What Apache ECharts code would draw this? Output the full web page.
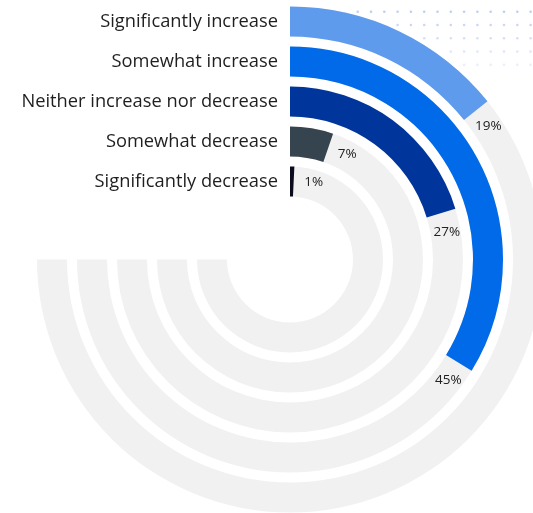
<!DOCTYPE html>
<html>
<head>
<meta charset="utf-8">
<script src="https://cdn.jsdelivr.net/npm/echarts@6/dist/echarts.min.js"></script>
<style>
html,body{margin:0;padding:0;background:#fff;}
#chart{width:533px;height:513px;}
</style>
</head>
<body>
<div id="chart"></div>
<script>
const categories = ['Significantly increase', 'Somewhat increase', 'Neither increase nor decrease', 'Somewhat decrease', 'Significantly decrease'];
const values = [19, 45, 27, 7, 1];
const trackValues = [100, 100, 100, 100, 100];
const colors = ['#5f9bec', '#006ae9', '#00369b', '#36444f', '#0b0b1e'];

const CX = 290, CY = 259.5;
const chart = echarts.init(document.getElementById('chart'), null, {renderer: 'canvas'});

// decorative dot pattern (top right)
const dots = [];
for (let r = 0; r < 5; r++) {
  for (let c = 0; c < 14; c++) {
    const x = 357.7 + c * 13.3, y = 11.7 + r * 13.3;
    const d = Math.hypot(x - CX, y - CY);
    if (d < 256 || x > 533) continue;
    dots.push({type: 'circle', shape: {cx: x, cy: y, r: 1.3}, style: {fill: '#b9c9f2', opacity: 0.9 - r * 0.15}, silent: true});
  }
}

const option = {
  animation: false,
  backgroundColor: '#ffffff',
  graphic: [{type: 'group', z: -10, children: dots}],
  polar: {center: [CX, CY], radius: [58, 258]},
  angleAxis: {type: 'value', min: 0, max: 100 * 360 / 270, startAngle: 90, clockwise: true, show: false},
  radiusAxis: {
    type: 'category', data: categories, inverse: true,
    axisLine: {show: false}, axisTick: {show: false}, splitLine: {show: false},
    axisLabel: {show: true, interval: 0, margin: 12, padding: [4, 0, 0, 0], fontFamily: 'Open Sans', fontSize: 18.3, color: '#1f1f1f'}
  },
  series: [
    {type: 'bar', coordinateSystem: 'polar', data: trackValues, barCategoryGap: '25%', barGap: '-100%', silent: true,
     itemStyle: {color: '#f1f1f1'}, z: 1},
    {type: 'bar', coordinateSystem: 'polar', barCategoryGap: '25%', barGap: '-100%', z: 2,
     data: values.map((v, i) => ({value: v, itemStyle: {color: colors[i]}})),
     label: {show: true, position: 'end', distance: 20, rotate: 0, align: 'center', verticalAlign: 'middle',
             padding: [3, 0, 0, 0], formatter: '{c}%', fontFamily: 'Open Sans', fontSize: 13.5, color: '#222'}}
  ]
};
chart.setOption(option);
</script>
</body>
</html>
